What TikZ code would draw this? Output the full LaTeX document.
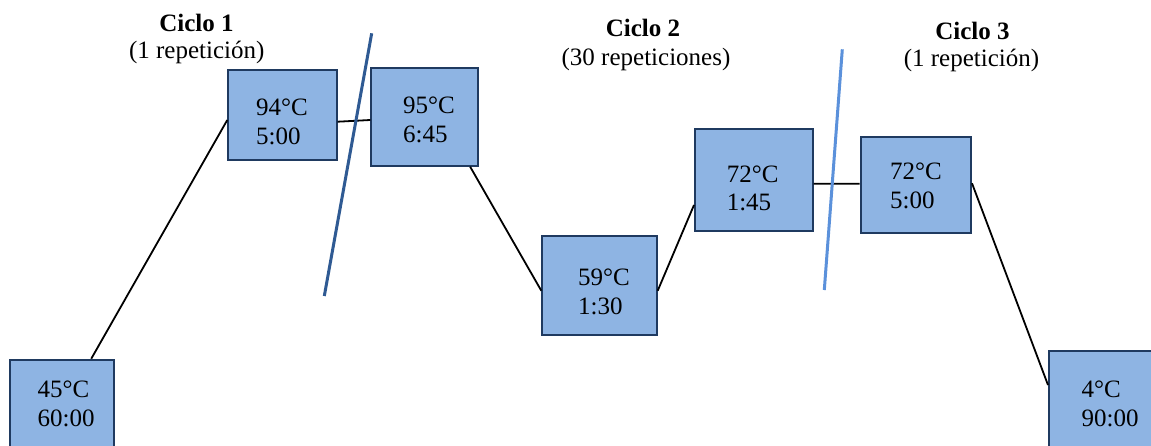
\documentclass[tikz,border=0pt]{standalone}
\usepackage{fontspec}
\setmainfont{Liberation Serif}
\usetikzlibrary{calc}
\definecolor{boxfill}{HTML}{8EB4E3}
\definecolor{boxline}{HTML}{1F3A60}
\definecolor{divdark}{HTML}{2F5A93}
\definecolor{divlight}{HTML}{5B91DB}
\tikzset{
  stepbox/.style={draw=boxline, fill=boxfill, line width=1pt, inner sep=0pt},
  lbl/.style={align=left, inner sep=0pt, font=\fontsize{12.5}{14.4}\selectfont},
  head/.style={anchor=base, inner sep=0pt, font=\fontsize{12.5}{14.4}\selectfont\bfseries},
  sub/.style={anchor=base, inner sep=0pt, font=\fontsize{12.5}{14.4}\selectfont},
  conn/.style={draw=black, line width=0.9pt},
  divider/.style={line width=1.5pt}
}
\begin{document}
\begin{tikzpicture}[x=0.5pt, y=-0.5pt]
\clip (0,0) rectangle (1151,445);
\fill[white] (0,0) rectangle (1151,445);
% boxes
\node[stepbox, minimum width=52pt, minimum height=50pt] (b1) at (62,409.7) {};
\node[stepbox, minimum width=54.2pt, minimum height=45pt] (b2) at (282.5,115) {};
\node[stepbox, minimum width=53.2pt, minimum height=49pt] (b3) at (424.5,116.7) {};
\node[stepbox, minimum width=57.2pt, minimum height=49.65pt] (b4) at (599.5,285.35) {};
\node[stepbox, minimum width=58.85pt, minimum height=51pt] (b5) at (753.85,180.3) {};
\node[stepbox, minimum width=55.15pt, minimum height=48.3pt] (b6) at (915.85,185) {};
\node[stepbox, minimum width=56pt, minimum height=50pt] (b7) at (1105,400.7) {};
% texts
\node[lbl] (t1) at (66.2,404.2) {45°C\\60:00};
\node[lbl] (t2) at (281.9,121.5) {94°C\\5:00};
\node[lbl] (t3) at (428.9,119.7) {95°C\\6:45};
\node[lbl] (t4) at (603.9,291.8) {59°C\\1:30};
\node[lbl] (t5) at (752.6,188.4) {72°C\\1:45};
\node[lbl] (t6) at (915.9,185.9) {72°C\\5:00};
\node[lbl] (t7) at (1110.2,404.2) {4°C\\90:00};
% connectors
\draw[conn] ($(b1.north west)!0.776!(b1.north east)$) -- ($(b2.west)+(0,5)$);
\draw[conn] ($(b2.east)+(0,6.7)$) -- ($(b3.west)+(0,3.3)$);
\draw[conn] ($(b3.south west)!0.921!(b3.south east)$) -- ($(b4.west)+(0,5.35)$);
\draw[conn] ($(b4.east)+(0,5.35)$) -- ($(b5.west)+(0,24.7)$);
\draw[conn] ($(b5.east)+(0,3.4)$) -- ($(b6.west)+(0,-1.3)$);
\draw[conn] ($(b6.east)+(0,-1.7)$) -- ($(b7.west)+(0,-15.7)$);
% dividers
\coordinate (d1a) at (371.7,33.3);
\coordinate (d1b) at (324.3,296);
\coordinate (d2a) at (842.3,49.3);
\coordinate (d2b) at (824.3,290);
\draw[divider, draw=divdark] (d1a) -- (d1b);
\draw[divider, draw=divlight] (d2a) -- (d2b);
% headers
\node[head] (h1) at (196.5,31.7) {Ciclo 1};
\node[sub] (s1) at (196.7,58) {(1 repetición)};
\node[head] (h2) at (643,36.7) {Ciclo 2};
\node[sub] (s2) at (646,65) {(30 repeticiones)};
\node[head] (h3) at (972.5,39.3) {Ciclo 3};
\node[sub] (s3) at (971.5,66.7) {(1 repetición)};
\end{tikzpicture}
\end{document}
